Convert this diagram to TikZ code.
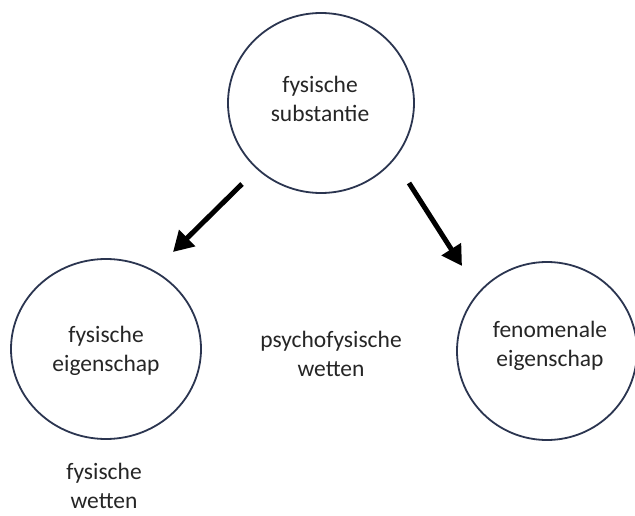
\documentclass[tikz,border=0pt]{standalone}
\usepackage{fontspec}
\setmainfont{Carlito}
\usetikzlibrary{arrows.meta}
\definecolor{ring}{HTML}{2B3550}
\definecolor{txt}{HTML}{262626}
\begin{document}
\begin{tikzpicture}[x=1pt,y=-1pt,
  ringline/.style={draw=ring, line width=1.8pt},
  lbl/.style={text=txt, font=\fontsize{23.5}{29}\selectfont, align=center},
  bigarrow/.style={line width=5pt, -{Triangle[length=20pt,width=22pt]}}]
\useasboundingbox (0,0) rectangle (635,516);
\fill[white] (0,0) rectangle (635,516);
% circles
\draw[ringline] (321,103) ellipse [x radius=93, y radius=90];
\draw[ringline] (106,349) ellipse [x radius=95, y radius=90];
\begin{scope}
\clip (0,0) rectangle (635,516);
\draw[ringline] (547,351) ellipse [x radius=90, y radius=89];
\end{scope}
% labels
\node[lbl] (top) at (320,99) {fysische\\substantie};
\node[lbl] (left) at (106,351) {fysische\\eigenschap};
\node[lbl] (right) at (550,346) {fenomenale\\eigenschap};
\node[lbl] (mid) at (331,354) {psychofysische\\wetten};
\node[lbl] (bot) at (104,486) {fysische\\wetten};
% arrows
\coordinate (la) at (242,184);
\coordinate (lb) at (173,252);
\coordinate (ra) at (409,183);
\coordinate (rb) at (462,266);
\draw[bigarrow] (la) -- (lb);
\draw[bigarrow] (ra) -- (rb);
\end{tikzpicture}
\end{document}
